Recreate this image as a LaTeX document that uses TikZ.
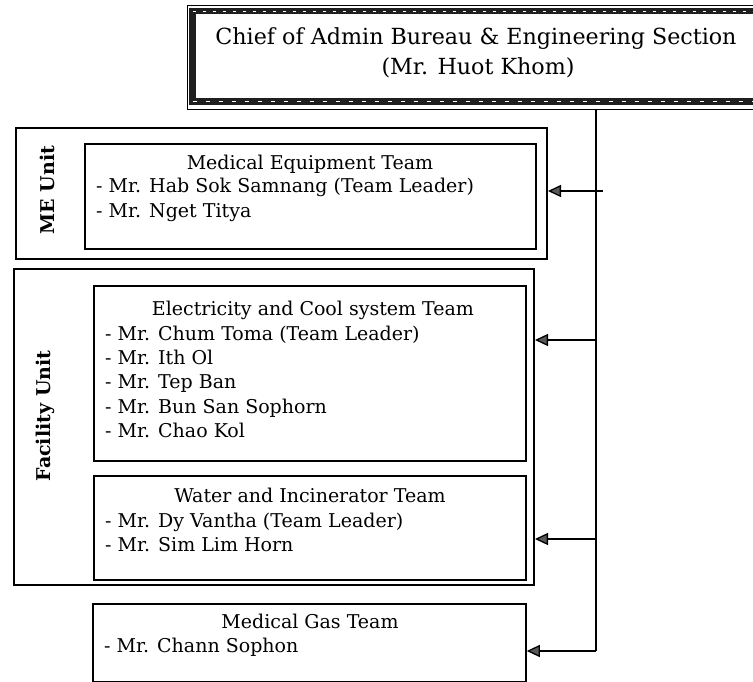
\documentclass[tikz,border=0pt]{standalone}
\usepackage{fontspec}
\setmainfont{DejaVu Serif}
\usetikzlibrary{arrows.meta}
\tikzset{
  unitframe/.style={draw, line width=2pt, anchor=north west, inner sep=0pt},
  teamframe/.style={draw, line width=1.8pt, anchor=north west, inner sep=0pt},
  teamtxt/.style={inner sep=0pt, font=\fontsize{19}{24}\selectfont},
  chieftxt/.style={inner sep=0pt, font=\fontsize{22.2}{27}\selectfont},
  unitlbl/.style={inner sep=0pt, rotate=90, font=\bfseries\fontsize{19}{24}\selectfont},
  wire/.style={line width=1.3pt},
  feed/.style={wire, -{Triangle[length=13pt,width=12pt,fill=black!65]}},
}
\begin{document}
\begin{tikzpicture}[x=1pt,y=-1pt]
\useasboundingbox (0,0) rectangle (753,682);

% head office frame: thin outer rule and heavy inner band
\node[draw, line width=0.8pt, anchor=north west, inner sep=0pt,
      minimum width=590pt, minimum height=104pt] (chief) at (187,5) {};
\draw[line width=6.5pt, black!88] (192.5,11) rectangle (790,101.5);
\draw[line width=0.4pt, white, dash pattern=on 3pt off 7pt] (192.5,11) -- (790,11);
\draw[line width=0.4pt, white, dash pattern=on 4pt off 9pt] (192.5,101.5) -- (790,101.5);
\node[chieftxt, anchor=base] (chiefl1) at (476,45) {Chief of Admin Bureau \& Engineering Section};
\node[chieftxt, anchor=base] (chiefl2) at (478,75) {(Mr. Huot Khom)};

% ME unit
\node[unitframe, minimum width=531pt, minimum height=131pt] (meunit) at (15,127) {};
\node[teamframe, minimum width=451pt, minimum height=105pt] (meteam) at (84,143) {};
\node[unitlbl] (melbl) at (47,190) {ME Unit};
\node[teamtxt, anchor=base] (metitle) at (310,170) {Medical Equipment Team};
\node[teamtxt, anchor=base west] (me1) at (96,193) {- Mr. Hab Sok Samnang (Team Leader)};
\node[teamtxt, anchor=base west] (me2) at (96,218) {- Mr. Nget Titya};

% Facility unit
\node[unitframe, minimum width=520pt, minimum height=316pt] (facunit) at (13,268) {};
\node[unitlbl] (faclbl) at (45,416) {Facility Unit};

\node[teamframe, minimum width=432pt, minimum height=175pt] (elteam) at (93,285) {};
\node[teamtxt, anchor=base] (eltitle) at (313,315) {Electricity and Cool system Team};
\node[teamtxt, anchor=base west] (el1) at (105,340) {- Mr. Chum Toma (Team Leader)};
\node[teamtxt, anchor=base west] (el2) at (105,364) {- Mr. Ith Ol};
\node[teamtxt, anchor=base west] (el3) at (105,388) {- Mr. Tep Ban};
\node[teamtxt, anchor=base west] (el4) at (105,413) {- Mr. Bun San Sophorn};
\node[teamtxt, anchor=base west] (el5) at (105,437) {- Mr. Chao Kol};

\node[teamframe, minimum width=432pt, minimum height=104pt] (wateam) at (93,475) {};
\node[teamtxt, anchor=base] (watitle) at (310,502) {Water and Incinerator Team};
\node[teamtxt, anchor=base west] (wa1) at (105,527) {- Mr. Dy Vantha (Team Leader)};
\node[teamtxt, anchor=base west] (wa2) at (105,551) {- Mr. Sim Lim Horn};

% Medical gas team
\node[teamframe, minimum width=433pt, minimum height=78pt] (gasteam) at (92,603) {};
\node[teamtxt, anchor=base] (gastitle) at (310,628) {Medical Gas Team};
\node[teamtxt, anchor=base west] (gas1) at (104,652) {- Mr. Chann Sophon};

% reporting lines
\coordinate (trunk) at (596,109);
\coordinate (bend) at (596,651);
\coordinate (stub) at (603,191);
\coordinate (jel) at (596,340);
\coordinate (jwa) at (596,539);
\draw[wire] (trunk) -- (bend);
\draw[feed] (stub) -- (meunit.east |- stub);
\draw[feed] (jel) -- (facunit.east |- jel);
\draw[feed] (jwa) -- (facunit.east |- jwa);
\draw[feed] (bend) -- (gasteam.east |- bend);
\end{tikzpicture}
\end{document}
